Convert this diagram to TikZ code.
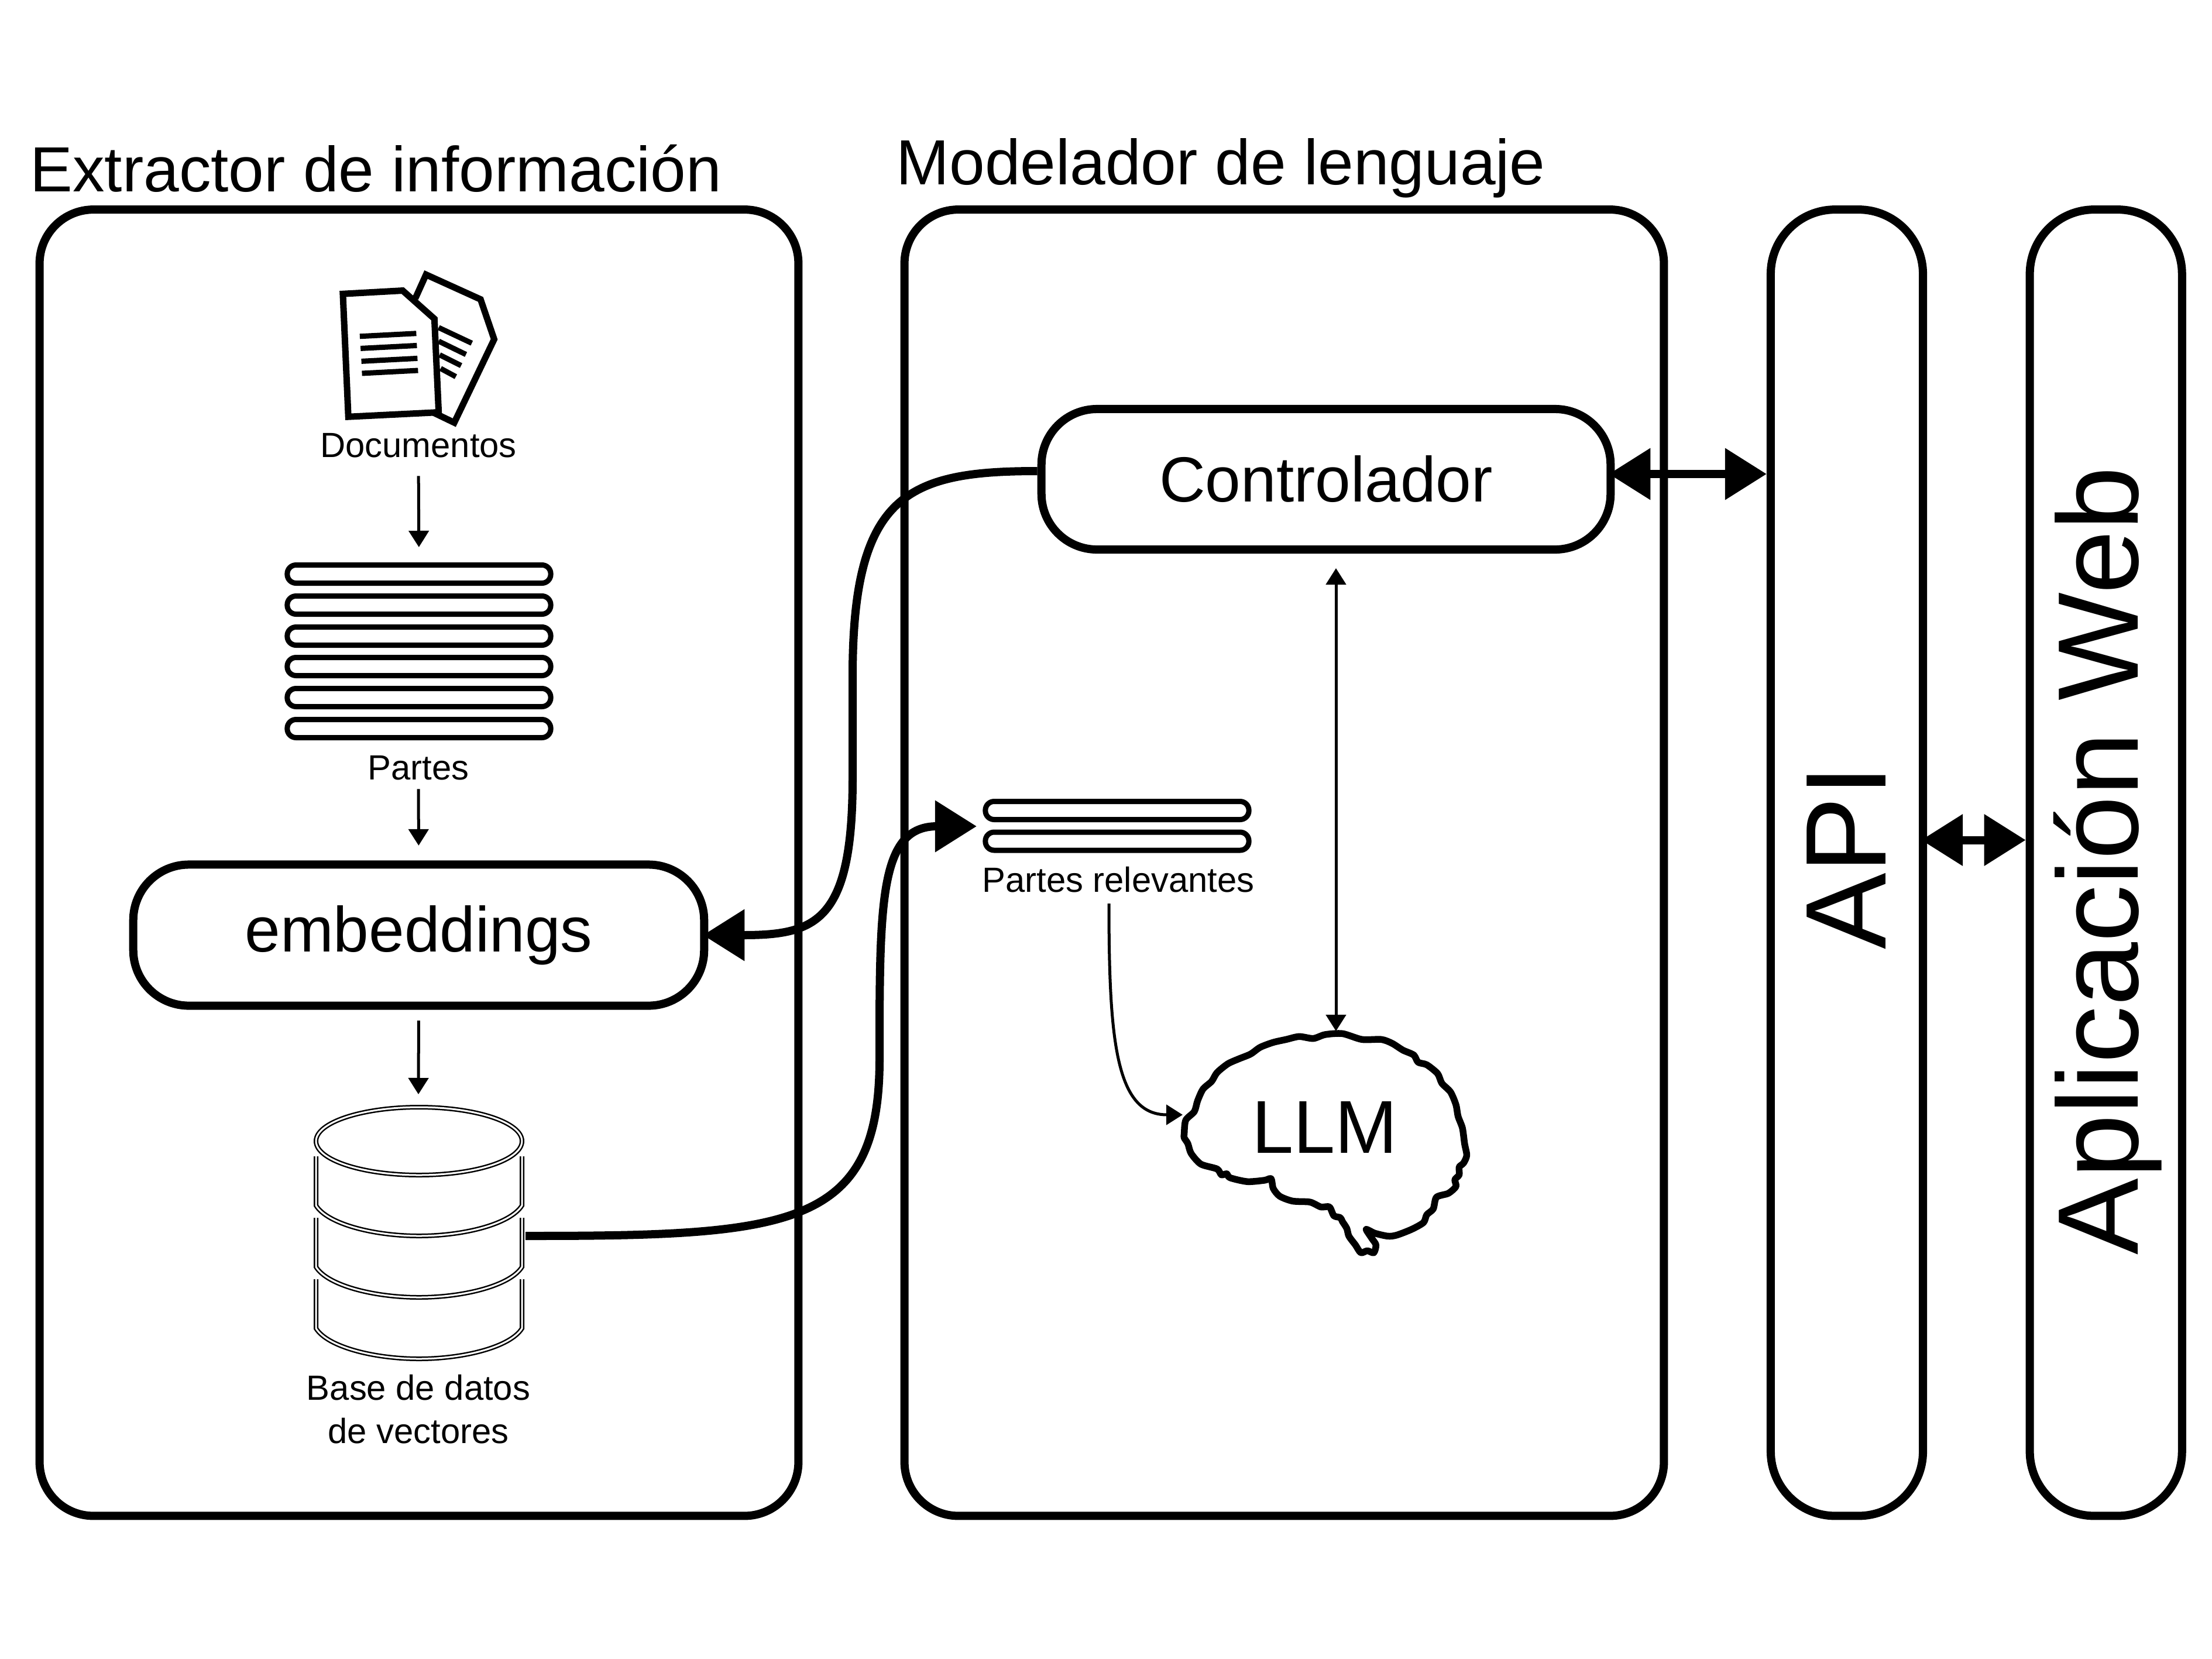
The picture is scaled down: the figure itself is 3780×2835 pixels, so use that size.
\documentclass[tikz,border=0pt]{standalone}
\usepackage{fontspec}
\setmainfont{Liberation Sans}
\usetikzlibrary{arrows.meta}
\tikzset{
  panel/.style={draw=black,line width=0.14cm,rounded corners=0.92cm,fill=white,inner sep=0pt},
  pill/.style={draw=black,line width=0.14cm,rounded corners=0.95cm,fill=white,inner sep=0pt,font=\fontsize{31}{37}\selectfont},
  strip/.style={draw=black,line width=0.09cm,rounded corners=0.15cm,fill=white,minimum width=4.5cm,minimum height=0.31cm,inner sep=0pt},
  heading/.style={anchor=base west,inner sep=0pt,font=\fontsize{31}{37}\selectfont},
  caption/.style={anchor=base,inner sep=0pt,font=\fontsize{17}{21.3}\selectfont},
  upright/.style={rotate=90,anchor=base,inner sep=0pt,font=\fontsize{55.7}{60}\selectfont},
  flow/.style={line width=0.05cm,-{Triangle[length=0.28cm,width=0.34cm]}},
  flowboth/.style={line width=0.05cm,{Triangle[length=0.28cm,width=0.34cm]}-{Triangle[length=0.28cm,width=0.34cm]}},
  link/.style={line width=0.14cm,-{Triangle[length=0.71cm,width=0.85cm]}},
  linkboth/.style={line width=0.14cm,{Triangle[length=0.71cm,width=0.85cm]}-{Triangle[length=0.71cm,width=0.85cm]}},
  cyl/.style={line width=0.025cm,double=white,double distance=0.03cm},
  pagestroke/.style={line width=0.11cm,line join=miter},
  textstroke/.style={line width=0.09cm}
}
\begin{document}
\begin{tikzpicture}[x=0.01cm,y=-0.01cm]
\useasboundingbox (0,0) rectangle (3780,2835);
\fill[white] (0,0) rectangle (3780,2835);
% panels
\node[panel,minimum width=12.96cm,minimum height=22.31cm] (extractor) at (716,1474.25) {};
\node[panel,minimum width=12.97cm,minimum height=22.31cm] (modeler) at (2194.5,1474.25) {};
\node[panel,minimum width=2.6cm,minimum height=22.31cm,rounded corners=1.1cm] (api) at (3156,1474.25) {};
\node[panel,minimum width=2.6cm,minimum height=22.31cm,rounded corners=1.1cm] (web) at (3598.7,1474.25) {};
% headings
\node[heading] (tA) at (51,327) {Extractor de información};
\node[heading] (tB) at (1531,315) {Modelador de lenguaje};
\node[upright] (apiT) at (3222,1465) {API};
\node[upright] (webT) at (3653,1471) {Aplicación Web};
% inner boxes
\node[pill,minimum width=9.72cm,minimum height=2.4cm] (ctrl) at (2266,819) {Controlador};
\node[pill,minimum width=9.75cm,minimum height=2.41cm] (embed) at (715.5,1598) {embeddings};
% documents icon
\begin{scope}[shift={(540,430)},x=0.00333cm,y=-0.00333cm]
\draw[pagestroke] (510,240) -- (565,118) -- (845,245) -- (915,450) -- (710,878) -- (600,825);
\draw[textstroke] (630,390) -- (800,470) (630,460) -- (770,528) (635,530) -- (745,585) (640,600) -- (718,642);
\draw[pagestroke] (138,217) -- (445,200) -- (608,345) -- (630,825) -- (166,848) -- cycle;
\draw[textstroke] (225,435) -- (515,420) (229,497) -- (518,482) (233,563) -- (521,548) (236,625) -- (524,610);
\end{scope}
\node[caption] (docs) at (715,781) {Documentos};
% parts
\node[strip] (p1) at (716,981) {};
\node[strip] (p2) at (716,1034) {};
\node[strip] (p3) at (716,1087) {};
\node[strip] (p4) at (716,1139) {};
\node[strip] (p5) at (716,1192) {};
\node[strip] (p6) at (716,1245) {};
\node[caption] (parts) at (715,1332) {Partes};
% relevant parts
\node[strip] (r1) at (1909,1385) {};
\node[strip] (r2) at (1909,1437.5) {};
\node[caption] (rel) at (1911,1524.5) {Partes relevantes};
% database
\coordinate (dbTop) at (715,1870);
\draw[cyl] (716,1950) ellipse [x radius=176,y radius=58];
\foreach \o in {0,105,210}{
\draw[cyl] (540,1976+\o) -- (540,2060+\o) .. controls (560,2092+\o) and (640,2112+\o) .. (716,2112+\o) .. controls (792,2112+\o) and (872,2092+\o) .. (892,2060+\o) -- (892,1976+\o);
}
\coordinate (dbOut) at (898,2112);
\node[caption,align=center,anchor=north] (dbT) at (715,2348) {Base de datos\\de vectores};
% brain
\begin{scope}[shift={(1980,1738)},x=0.0037cm,y=-0.00332cm]
\draw[line width=0.115cm,line join=round] plot[smooth cycle,tension=0.45] coordinates {
(118,600)(125,530)(165,485)(180,430)(205,370)(245,330)(270,285)(320,240)(370,215)(425,190)(470,155)(530,130)(590,115)(650,100)(715,110)(770,90)(850,85)(940,115)(1030,115)(1080,135)(1130,170)(1180,195)(1200,232)(1240,245)(1290,290)(1310,340)(1350,385)(1375,450)(1385,510)(1405,570)(1415,650)(1425,710)(1410,750)(1390,770)(1390,810)(1370,835)(1375,870)(1340,905)(1285,925)(1270,985)(1240,1015)(1225,1055)(1170,1090)(1100,1120)(1060,1125)(1000,1110)(960,1090)(985,1135)(1005,1170)(995,1210)(965,1200)(935,1210)(910,1170)(880,1125)(870,1085)(850,1050)(840,1030)(810,1020)(790,975)(750,975)(700,950)(620,945)(560,920)(530,880)(520,830)(490,838)(410,845)(330,825)(315,805)(290,810)(270,780)(195,755)(150,700)(135,650)(118,620)};
\end{scope}
\node[inner sep=0pt,font=\fontsize{36.4}{40}\selectfont] (llm) at (2264,1926) {LLM};
\coordinate (brainTop) at (2283,1762);
\coordinate (brainLeft) at (2021,1905);
% connectors
\draw[flow,shorten <=0.31cm,shorten >=0.26cm] (docs.south) -- (p1.north);
\draw[flow,shorten <=0.15cm,shorten >=0.255cm] (parts.south) -- (embed.north);
\draw[flow,shorten <=0.185cm] (embed.south) -- (dbTop);
\coordinate (colA) at (2283,971);
\draw[flowboth] (colA) -- (brainTop);
\draw[flow] (1895,1544) .. controls (1895,1780) and (1907,1905) .. (brainLeft);
\coordinate (rowA) at (0,810);
\coordinate (rowB) at (0,1435.5);
\coordinate (rowC) at (0,805);
\coordinate (relIn) at (1669,1412);
\draw[linkboth,shorten <=-0.1cm] (ctrl.east |- rowA) -- (api.west |- rowA);
\draw[linkboth,shorten <=-0.1cm] (api.east |- rowB) -- (web.west |- rowB);
\draw[link,shorten >=-0.09cm] (ctrl.west |- rowC) .. controls (1550,805) and (1457,845) .. (1457,1155) -- (1457,1330) .. controls (1457,1575) and (1395,1598) .. (embed.east);
\draw[link] (dbOut) .. controls (1350,2112) and (1503,2099) .. (1503,1810) .. controls (1503,1540) and (1503,1412) .. (relIn);
\end{tikzpicture}
\end{document}
